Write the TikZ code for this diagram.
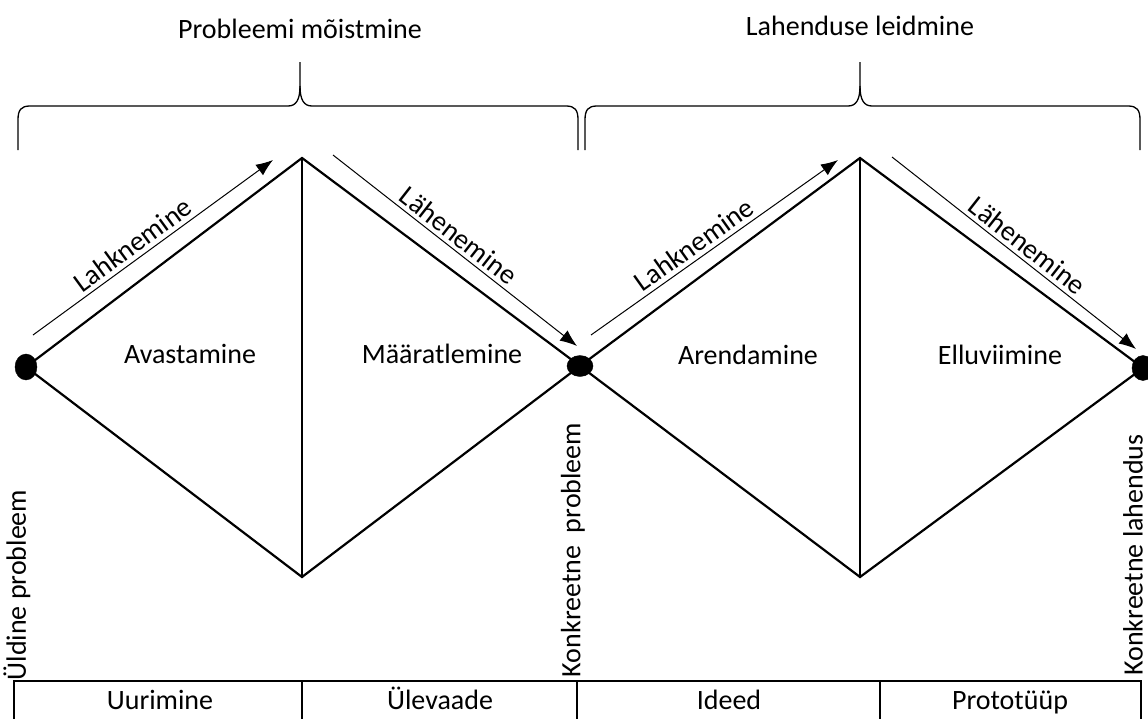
\documentclass[tikz,border=0pt]{standalone}
\usepackage{fontspec}
\setmainfont{Carlito}
\usetikzlibrary{arrows.meta}
\usetikzlibrary{shapes.geometric}

\begin{document}
\begin{tikzpicture}[x=1pt, y=-1pt,
    txt/.style={font=\fontsize{28}{32}\selectfont, inner sep=0pt},
    edge/.style={line width=2.2pt, line join=miter},
    flow/.style={line width=1pt, arrows={-Latex[length=17pt, width=13pt]}},
    brace/.style={line width=1.3pt},
    cell/.style={line width=1.6pt},
    dot/.style={draw, fill, ellipse, inner sep=0pt, minimum width=22pt, minimum height=26pt}]
    \useasboundingbox (0,0) rectangle (1148,718);
    % titles and braces
    \node[txt, anchor=base] (pm) at (300,38) {Probleemi mõistmine};
    \node[txt, anchor=base] (ll) at (860,35) {Lahenduse leidmine};
    \draw[brace] (18,150) -- (18,120) .. controls (18,110) and (21,106) .. (30,106) -- (288,106) .. controls (296,106) and (300,100) .. (300,86) -- (300,62);
    \draw[brace] (300,86) .. controls (300,100) and (304,106) .. (312,106) -- (566,106) .. controls (575,106) and (578,110) .. (578,120) -- (578,150);
    \draw[brace] (585,150) -- (585,120) .. controls (585,110) and (588,106) .. (597,106) -- (848,106) .. controls (856,106) and (860,100) .. (860,86) -- (860,62);
    \draw[brace] (860,86) .. controls (860,100) and (864,106) .. (872,106) -- (1128,106) .. controls (1137,106) and (1140,110) .. (1140,120) -- (1140,150);
    % diamonds
    \coordinate (T1) at (302,158);
    \coordinate (B1) at (302,577);
    \coordinate (T2) at (860,158);
    \coordinate (B2) at (860,577);
    \coordinate (L) at (26,367);
    \coordinate (M) at (580,366);
    \coordinate (R) at (1143,368);
    \draw[edge] (L) -- (T1) -- (M) -- (B1) -- cycle;
    \draw[edge] (M) -- (T2) -- (R) -- (B2) -- cycle;
    \draw[line width=1.8pt] (T1) -- (B1);
    \draw[line width=1.8pt] (T2) -- (B2);
    \node[dot] (Ld) at (L) {};
    \node[dot, minimum width=26pt, minimum height=21pt] (Md) at (M) {};
    \node[dot, minimum height=25pt] (Rd) at (R) {};
    % arrows
    \coordinate (a1s) at (33,335);
    \coordinate (a1e) at (273,160);
    \coordinate (a2s) at (333,155);
    \coordinate (a2e) at (577,346);
    \coordinate (a3s) at (591,335);
    \coordinate (a3e) at (838,160);
    \coordinate (a4s) at (892,157);
    \coordinate (a4e) at (1136,349);
    \draw[flow] (a1s) -- node[txt, sloped, above=4pt, pos=0.45] (lk1) {Lahknemine} (a1e);
    \draw[flow] (a2s) -- node[txt, sloped, above=4pt, pos=0.48] (lh1) {Lähenemine} (a2e);
    \draw[flow] (a3s) -- node[txt, sloped, above=4pt, pos=0.45] (lk2) {Lahknemine} (a3e);
    \draw[flow] (a4s) -- node[txt, sloped, above=4pt, pos=0.52] (lh2) {Lähenemine} (a4e);
    % phases
    \node[txt, anchor=base] (av) at (190,363) {Avastamine};
    \node[txt, anchor=base] (ma) at (442,363) {Määratlemine};
    \node[txt, anchor=base] (ar) at (748,364) {Arendamine};
    \node[txt, anchor=base] (el) at (1000,364) {Elluviimine};
    % states
    \node[txt, rotate=90] (yp) at (17,585) {Üldine probleem};
    \node[txt, rotate=90] (kp) at (573,550) {Konkreetne~ probleem};
    \node[txt, rotate=90] (kl) at (1133,555) {Konkreetne lahendus};
    % table
    \draw[cell] (14,740) -- (14,681) -- (1141,681) -- (1141,740);
    \draw[cell] (302,681) -- (302,740);
    \draw[cell] (577,681) -- (577,740);
    \draw[cell] (880,681) -- (880,740);
    \node[txt, anchor=base] (ur) at (160,709) {Uurimine};
    \node[txt, anchor=base] (ul) at (440,709) {Ülevaade};
    \node[txt, anchor=base] (id) at (729,709) {Ideed};
    \node[txt, anchor=base] (pr) at (1010,709) {Prototüüp};
\end{tikzpicture}
\end{document}
